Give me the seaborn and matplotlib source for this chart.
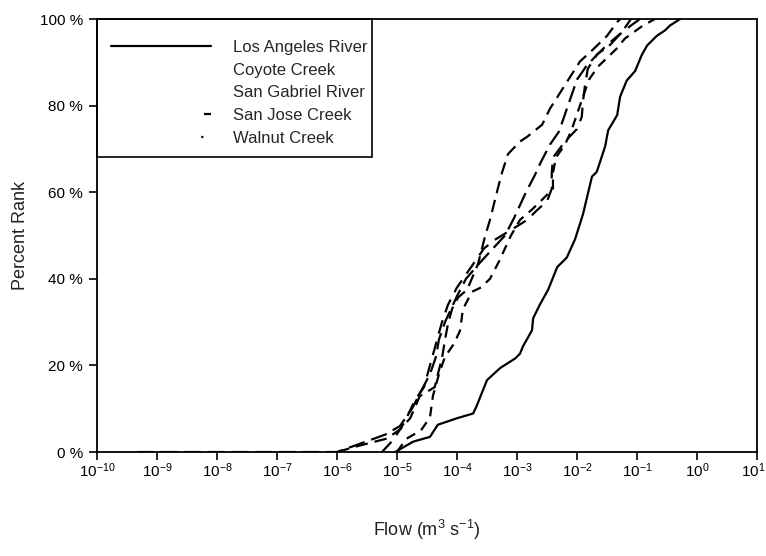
import numpy as np
import pandas as pd
import matplotlib
matplotlib.use("Agg")
import matplotlib.pyplot as plt
import matplotlib.transforms as mtransforms
from matplotlib.lines import Line2D
from matplotlib.patches import Rectangle
from matplotlib.ticker import FixedLocator, FixedFormatter
import seaborn as sns

# ---- data (log10 flow, percent rank) ----
series_names = ["Los Angeles River", "Coyote Creek", "San Gabriel River",
                "San Jose Creek", "Walnut Creek"]

la_logq = [-5.03, -4.73, -4.45, -4.32, -4.0, -3.73, -3.67, -3.5, -3.28, -3.03,
           -2.95, -2.9, -2.75, -2.73, -2.62, -2.48, -2.33, -2.17, -2.03, -1.9,
           -1.75, -1.67, -1.53, -1.48, -1.33, -1.28, -1.17, -1.03, -0.92, -0.83,
           -0.67, -0.53, -0.45, -0.28]
la_pct = [0, 2.4, 3.5, 6.3, 7.8, 8.9, 10.7, 16.6, 19.4, 21.6,
          22.7, 24.4, 28.1, 30.9, 34.0, 37.5, 42.7, 44.9, 49.2, 54.9,
          63.6, 64.7, 70.6, 74.3, 77.8, 82.1, 85.8, 88.0, 91.7, 93.9,
          96.1, 97.4, 98.5, 100]

coyote_logq = [-6.0, -5.62, -5.17, -4.95, -4.78, -4.62, -4.37, -4.32, -4.25, -4.2,
               -4.15, -4.08, -3.98, -3.83, -3.65, -3.53, -3.45, -3.32, -3.25, -3.15,
               -2.95, -2.83, -2.58, -2.45, -2.28, -2.12, -1.95, -1.73, -1.5, -1.33,
               -1.28]
coyote_pct = [0, 1.5, 3.1, 5.2, 7.8, 12.9, 15.0, 17.9, 21.6, 25.9,
              29.6, 33.1, 35.7, 37.5, 43.4, 49.9, 53.6, 60.8, 64.5, 68.8,
              71.7, 72.8, 75.6, 79.3, 83.0, 86.5, 90.2, 93.0, 96.1, 99.3,
              100]

gabriel_logq = [-5.25, -5.05, -4.87, -4.7, -4.55, -4.45, -4.35, -4.25, -4.15, -4.0,
                -3.8, -3.55, -3.37, -2.98, -2.83, -2.67, -2.5, -2.42, -2.42, -2.4,
                -2.28, -2.2, -2.0, -1.92, -1.9, -1.87, -1.82, -1.67, -1.5, -1.33,
                -1.1, -0.95]
gabriel_pct = [0, 3, 7, 12, 15, 20, 25, 30, 34, 38,
               42, 47, 49, 52.3, 53.6, 55.8, 57.9, 60.8, 64.5, 68,
               70.2, 71.7, 74.6, 77.4, 80.9, 84.3, 88.5, 91.7, 94, 96,
               98.5, 100]

sanjose_logq = [-5.0, -4.85, -4.6, -4.45, -4.4, -4.3, -4.2, -4.05, -3.95, -3.9,
                -3.75, -3.6, -3.45, -3.3, -3.2, -3.1, -2.95, -2.75, -2.6, -2.4,
                -2.4, -2.35, -2.2, -2.1, -2.0, -1.9, -1.8, -1.65, -1.5, -1.35,
                -1.2, -0.9, -0.7]
sanjose_pct = [0, 3, 5, 8, 13, 18, 22, 25, 28, 33,
               37, 38, 40, 44, 47, 50, 53.6, 56, 58, 60.8,
               64.5, 68, 71, 74, 78, 82, 86, 89, 91, 93,
               95.5, 98.5, 100]

walnut_logq = [-9.33, -6.0, -5.6, -5.2, -4.95, -4.75, -4.6, -4.45, -4.35, -4.3,
               -4.2, -4.1, -4.0, -3.85, -3.6, -3.4, -3.2, -3.05, -2.95, -2.85,
               -2.7, -2.6, -2.45, -2.3, -2.2, -2.1, -2.0, -1.85, -1.65, -1.45,
               -1.25, -1.1]
walnut_pct = [0, 0, 2, 4, 6, 10, 14, 18, 22, 26,
              30, 33, 36, 40, 44, 47, 50, 54, 57, 60,
              64, 67, 71, 74, 78, 82, 86, 89, 92, 94,
              97, 100]

x_tick_exps = [-10, -9, -8, -7, -6, -5, -4, -3, -2, -1, 0, 1]
y_ticks = [0, 20, 40, 60, 80, 100]
y_tick_labels = ["0 %", "20 %", "40 %", "60 %", "80 %", "100 %"]

# ---- build a long table ----
frames = []
for name, lq, pc in zip(series_names,
                        [la_logq, coyote_logq, gabriel_logq, sanjose_logq, walnut_logq],
                        [la_pct, coyote_pct, gabriel_pct, sanjose_pct, walnut_pct]):
    frames.append(pd.DataFrame({"flow": np.power(10.0, np.array(lq)),
                                "pct": pc, "site": name}))
df = pd.concat(frames, ignore_index=True)

# ---- style ----
sns.set_theme(style="ticks")
plt.rcParams["font.family"] = ["Liberation Sans", "DejaVu Sans"]
plt.rcParams["mathtext.default"] = "regular"
plt.rcParams["lines.scale_dashes"] = False

fig = plt.figure(figsize=(7.66, 5.56), dpi=100)
ax = fig.add_axes([0.1266, 0.187, 0.8616, 0.7788])

dash_map = {
    "Los Angeles River": "",
    "Coyote Creek": (9, 5),
    "San Gabriel River": (10, 6),
    "San Jose Creek": (7, 5),
    "Walnut Creek": (12, 5),
}
sns.lineplot(data=df, x="flow", y="pct", hue="site", style="site",
             palette={n: "black" for n in series_names},
             dashes=dash_map, estimator=None, sort=False, units="site",
             linewidth=1.6, legend=False, ax=ax)

ax.set_xscale("log")
ax.set_xlim(1e-10, 1e1)
ax.set_ylim(0, 100)
ax.xaxis.set_major_locator(FixedLocator([10.0 ** e for e in x_tick_exps]))
ax.xaxis.set_major_formatter(FixedFormatter([r"$10^{%d}$" % e for e in x_tick_exps]))
ax.xaxis.set_minor_locator(FixedLocator([]))
ax.set_yticks(y_ticks)
ax.set_yticklabels(y_tick_labels)

for sp in ax.spines.values():
    sp.set_visible(True)
    sp.set_linewidth(1.3)
    sp.set_color("black")
ax.tick_params(axis="x", which="major", direction="out", length=6, width=1.2,
               colors="black", labelsize=11, pad=1)
ax.tick_params(axis="y", which="major", direction="out", length=6, width=1.2,
               colors="black", labelsize=11, pad=4)
ax.tick_params(top=False, right=False)

# nudge the last x tick label so it stays inside the figure
last = ax.get_xticklabels()[-1]
last.set_transform(last.get_transform() +
                   mtransforms.ScaledTranslation(-4 / 100, 0, fig.dpi_scale_trans))

ax.set_xlabel(r"Flow (m$^3$ s$^{-1}$)", fontsize=13, labelpad=27, color="#222222")
ax.set_ylabel("Percent Rank", fontsize=13, labelpad=8, color="#222222")

# ---- legend ----
fs = 12.0
handles = [
    Line2D([], [], color="black", lw=1.6),
    Line2D([], [], color="none", lw=1.6),
    Line2D([], [], color="none", lw=1.6),
    Line2D([], [], color="black", lw=1.6, linestyle=(205 - 67, (5, 200))),
    Line2D([], [], color="black", lw=1.6, linestyle=(201.5 - 65, (1.5, 200))),
]
leg = ax.legend(handles, series_names, loc="upper left",
                bbox_to_anchor=(-0.011, 1.0),
                fontsize=fs, handlelength=72 / fs, handletextpad=1.32,
                borderpad=1.25, labelspacing=0.46, borderaxespad=0,
                frameon=False)
# legend frame drawn as a plain box flush with the axes corner
ax.add_patch(Rectangle((0, 0.681), 0.4167, 0.319, transform=ax.transAxes,
                       fill=False, edgecolor="black", linewidth=1.2,
                       zorder=4, clip_on=False))

fig.savefig("out.png", dpi=100)
